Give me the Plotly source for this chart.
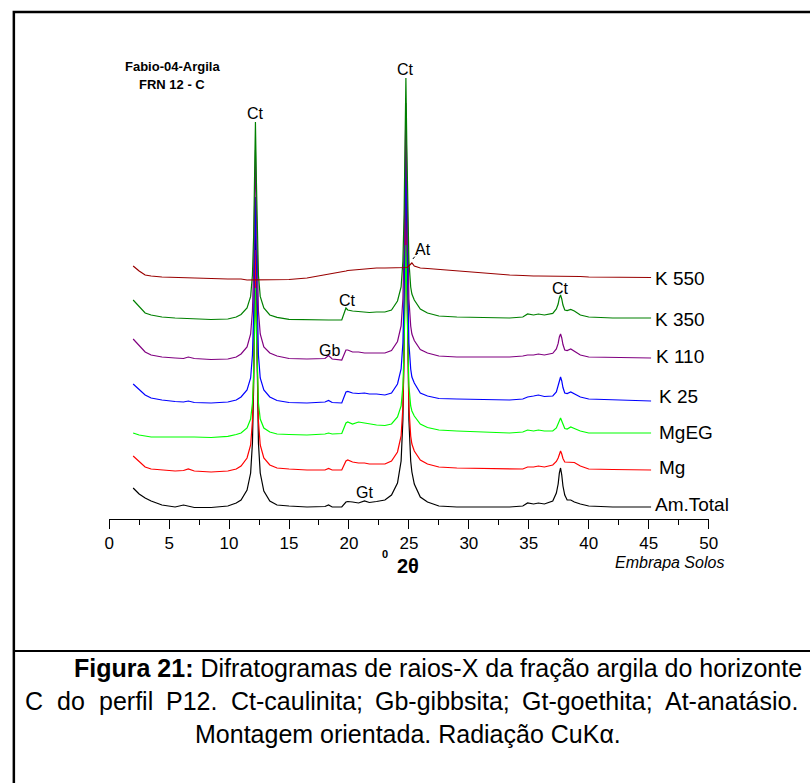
import plotly.graph_objects as go

# 2-theta grid (degrees) shared by all diffractograms
two_theta = [2.0, 2.5, 3.0, 3.5, 4.4, 5.5, 6.2, 6.6, 7.1, 8.5, 9.9, 10.6, 11.0, 11.5, 11.8, 11.95,
             12.05, 12.12, 12.2, 12.28, 12.35, 12.45, 12.6, 12.9, 13.4, 14.0, 15.0, 16.5, 18.0, 18.3,
             18.6, 19.4, 19.75, 19.9, 20.3, 20.8, 21.3, 21.7, 22.3, 23.0, 23.55, 24.05, 24.35, 24.5,
             24.6, 24.67, 24.75, 24.83, 24.9, 25.0, 25.15, 25.25, 25.45, 25.95, 26.55, 27.5, 29.0,
             31.0, 33.4, 34.5, 34.9, 35.4, 35.8, 36.3, 37.0, 37.3, 37.45, 37.55, 37.65, 37.75, 37.85,
             38.0, 38.2, 38.5, 38.8, 39.3, 40.0, 42.0, 45.2]

# intensities (arbitrary, stacked)
am_total = [31, 25, 21, 18, 14, 12, 14, 13, 11.5, 11.5, 13, 16, 19, 29, 46, 76, 132, 210, 294, 210,
            132, 76, 46, 28, 18, 14, 13, 12, 12.5, 14, 12, 12, 17, 17.5, 17, 16, 18, 16.5, 17.5, 19,
            24, 36, 58, 99, 174, 279, 391, 279, 174, 99, 58, 47, 35, 22, 17, 13, 12, 12, 12, 13, 16,
            15, 16, 15, 18, 26, 35, 46, 51, 44, 33, 24, 19, 19, 17, 15, 13, 12, 12]
mg = [63, 57, 52, 50, 49, 48, 48.5, 50, 48, 47, 48, 50, 53, 61, 74, 98, 142, 203, 269, 203, 142, 98,
      74, 61, 54, 51, 50, 49, 49, 50.5, 49, 49, 58, 59, 57, 56, 56, 55, 55, 55, 58, 67, 83, 112, 165,
      240, 319, 240, 165, 112, 83, 75, 68, 59, 55, 52, 51, 50.5, 50, 50, 52, 52, 53, 52, 54, 57.5, 61,
      66, 68, 65, 60.5, 57, 57, 57, 56.5, 53, 50, 49.5, 49]
mgeg = [86, 84, 83, 82, 82, 82, 82, 82.5, 82, 81.5, 82.7, 84.5, 86, 91, 100, 116, 146, 187, 231, 187,
        146, 116, 100, 91, 87, 85, 84.5, 84, 85, 86, 85, 85.5, 96, 97, 95, 97, 96, 95, 94, 93.5, 95,
        102, 113, 133, 169, 220, 274, 220, 169, 133, 113, 108, 103, 95, 91.5, 89, 88, 87, 86, 87, 89,
        88, 89, 88, 88, 91, 95, 99, 101, 98, 94, 90.5, 90, 92, 90.5, 88, 86, 86, 86]
k25 = [135, 129, 124, 121, 119, 117.5, 117, 118, 116.5, 116, 117, 119, 122, 129, 141, 164, 204, 261,
       322, 261, 204, 164, 141, 129, 122, 118.5, 116.5, 116, 117, 118.5, 116.5, 116, 127, 127.5, 126,
       125.5, 126, 125, 125, 124, 126, 135, 150, 176, 225, 293, 366, 293, 225, 176, 150, 142, 136,
       126, 123, 120.5, 120, 119.5, 119, 120, 122, 123, 124, 122.5, 123, 127, 133, 139, 142, 138,
       131.5, 126, 125.5, 127, 125, 122, 120, 119, 118]
k110 = [180, 173, 167, 164, 162, 161, 160.5, 162, 160.5, 159.5, 160, 162, 165, 172, 185, 208, 249,
        307, 369, 307, 249, 208, 185, 172, 166, 163, 160.5, 160, 160.5, 163.5, 160, 159, 169, 169,
        167, 167, 166, 166, 166, 166, 168.5, 177.5, 193, 220, 270, 341, 416, 341, 270, 220, 193, 185,
        178.5, 169.5, 166, 163, 162, 162, 162, 163, 164, 164, 165, 164, 165.7, 170, 175.6, 182, 185,
        181, 174.5, 169, 168.5, 170, 168, 164, 162, 161.5, 161]
k350 = [219, 212, 206, 204, 202, 201, 200.5, 200.5, 200, 199.5, 200, 202, 204.5, 211, 222.6, 244,
        283, 338, 397, 338, 283, 244, 222.6, 211, 204, 201.6, 199.6, 199, 199, 199, 199, 199, 211,
        209, 208, 207.5, 207, 206.5, 207, 207, 209, 218, 232, 258, 305, 370.5, 441, 370.5, 305, 258,
        232, 225, 219, 210, 206, 203, 202, 201.5, 201, 202, 205, 204, 205, 204, 205.6, 210, 215, 221,
        224, 220, 214, 209, 208.4, 209.6, 208, 204, 202, 201, 201]
k550 = [253, 248, 244, 243, 242, 241.5, 241, 241, 241, 240.5, 240, 240, 240, 239, 239, 239, 239, 239,
        239, 239, 239, 239, 239, 239, 239, 239, 239.5, 241, 244, 244.5, 245, 247, 248, 248.5, 249,
        249.5, 250, 250.5, 251, 251, 251, 251, 251, 251, 251, 251, 251.5, 251.5, 252, 253, 255, 256,
        253, 251, 250.5, 249.5, 248, 246, 244, 243.5, 243, 243, 243, 243, 242.5, 242.5, 242.5, 242.5,
        242.5, 242.5, 242.5, 242.5, 242.5, 242.5, 242.5, 242.5, 242, 242, 241.5]

series_names = ["Am.Total", "Mg", "MgEG", "K 25", "K 110", "K 350", "K 550"]
series_values = [am_total, mg, mgeg, k25, k110, k350, k550]
series_colors = ["#000000", "#ff0000", "#00ff00", "#0000ff", "#800080", "#008000", "#990000"]
label_pos = [(45.4, 15), (45.7, 52), (45.7, 87), (45.7, 123), (45.45, 163), (45.35, 200), (45.35, 241)]

peak_labels = ["Ct", "Ct", "At", "Ct", "Gb", "Gt", "Ct"]
peak_pos = [(12.2, 406), (24.75, 450), (26.15, 270), (19.9, 219), (18.4, 169), (21.3, 27), (37.66, 231)]

for v in series_values:
    assert len(v) == len(two_theta), len(v)

FONT = "Liberation Sans, Arial, sans-serif"
W, H = 810, 783

def px(x):
    return x / W

def py(y):
    return (H - y) / H

# Arial advance widths (1/1000 em) used to justify caption words
AW = {" ": 278, "-": 333, ".": 278, ":": 278, ";": 278, "C": 722, "P": 667, "G": 778, "A": 667,
      "a": 556, "b": 556, "c": 500, "d": 556, "e": 556, "f": 278, "g": 556, "h": 556, "i": 222,
      "l": 222, "n": 556, "o": 556, "p": 556, "r": 333, "s": 500, "t": 278, "u": 556, "á": 556}
for dch in "0123456789":
    AW[dch] = 556

def word_w(word, size):
    return sum(AW.get(ch, 556) for ch in word) * size / 1000.0

fig = go.Figure()
for name, vals, col in zip(series_names, series_values, series_colors):
    fig.add_trace(go.Scatter(x=two_theta, y=vals, mode="lines", name=name,
                             line=dict(color=col, width=1.2), showlegend=False,
                             hoverinfo="skip"))

ann = []
for name, (lx, ly) in zip(series_names, label_pos):
    ann.append(dict(x=lx, y=ly, xref="x", yref="y", text=name, showarrow=False,
                    xanchor="left", yanchor="middle", font=dict(family=FONT, size=19, color="black")))
for t, (lx, ly) in zip(peak_labels, peak_pos):
    ann.append(dict(x=lx, y=ly, xref="x", yref="y", text=t, showarrow=False,
                    xanchor="center", yanchor="middle", font=dict(family=FONT, size=16, color="black")))

# title block
ann.append(dict(x=px(170), y=py(66), xref="paper", yref="paper", text="<b>Fabio-04-Argila</b>",
                showarrow=False, xanchor="center", yanchor="middle",
                font=dict(family=FONT, size=13, color="black")))
ann.append(dict(x=px(170), y=py(85), xref="paper", yref="paper", text="<b>FRN 12 - C</b>",
                showarrow=False, xanchor="center", yanchor="middle",
                font=dict(family=FONT, size=13, color="black")))
# axis title
ann.append(dict(x=px(387), y=py(554), xref="paper", yref="paper", text="<b>0</b>",
                showarrow=False, xanchor="center", yanchor="middle",
                font=dict(family=FONT, size=11, color="black")))
ann.append(dict(x=px(410), y=py(566), xref="paper", yref="paper", text="<b>2θ</b>",
                showarrow=False, xanchor="center", yanchor="middle",
                font=dict(family=FONT, size=20, color="black")))
ann.append(dict(x=px(734), y=py(563), xref="paper", yref="paper", text="<i>Embrapa Solos</i>",
                showarrow=False, xanchor="right", yanchor="middle",
                font=dict(family=FONT, size=16, color="black")))

# caption
CAP = 25
line1 = "<b>Figura 21:</b> Difratogramas de raios-X da fração argila do horizonte"
line2_words = ["C", "do", "perfil", "P12.", "Ct-caulinita;", "Gb-gibbsita;", "Gt-goethita;",
               "At-anatásio."]
line3 = "Montagem orientada. Radiação CuKα."
ann.append(dict(x=px(441), y=py(668), xref="paper", yref="paper", text=line1,
                showarrow=False, xanchor="center", yanchor="middle", borderpad=0, borderwidth=0,
                font=dict(family=FONT, size=CAP, color="black")))
# justified second line
x_left, x_right = 20.0, 805.0
widths = [word_w(w, CAP) for w in line2_words]
gap = (x_right - x_left - sum(widths)) / (len(line2_words) - 1)
xc = x_left
for w, ww in zip(line2_words, widths):
    ann.append(dict(x=px(xc), y=py(701), xref="paper", yref="paper", text=w,
                    showarrow=False, xanchor="left", yanchor="middle", borderpad=0, borderwidth=0,
                    font=dict(family=FONT, size=CAP, color="black")))
    xc += ww + gap
ann.append(dict(x=px(410), y=py(734), xref="paper", yref="paper", text=line3,
                showarrow=False, xanchor="center", yanchor="middle", borderpad=0, borderwidth=0,
                font=dict(family=FONT, size=CAP, color="black")))

shapes = [
    dict(type="rect", xref="paper", yref="paper", x0=px(9), x1=1.02, y0=-0.02, y1=py(12),
         line=dict(color="black", width=2.5)),
    dict(type="line", xref="paper", yref="paper", x0=px(9), x1=1.02, y0=py(651), y1=py(651),
         line=dict(color="black", width=2)),
    dict(type="line", xref="x", yref="y", x0=25.33, y0=260, x1=25.74, y1=266,
         line=dict(color="black", width=1, dash="dot")),
]

fig.update_layout(
    width=W, height=H, margin=dict(l=0, r=0, t=0, b=0),
    paper_bgcolor="white", plot_bgcolor="white",
    annotations=ann, shapes=shapes, showlegend=False,
    xaxis=dict(domain=[px(106), px(716)], range=[0, 50], showline=True, linecolor="black",
               linewidth=1, ticks="outside", ticklen=9, tickwidth=1, tickcolor="black",
               dtick=5, tick0=0, showgrid=False, zeroline=False,
               tickfont=dict(family=FONT, size=17, color="black"),
               minor=dict(ticks="outside", ticklen=5, dtick=2.5, tickcolor="black", showgrid=False)),
    yaxis=dict(domain=[py(519), py(59)], range=[0, 460], visible=False, showgrid=False,
               zeroline=False),
)

fig.write_html("out.html")
